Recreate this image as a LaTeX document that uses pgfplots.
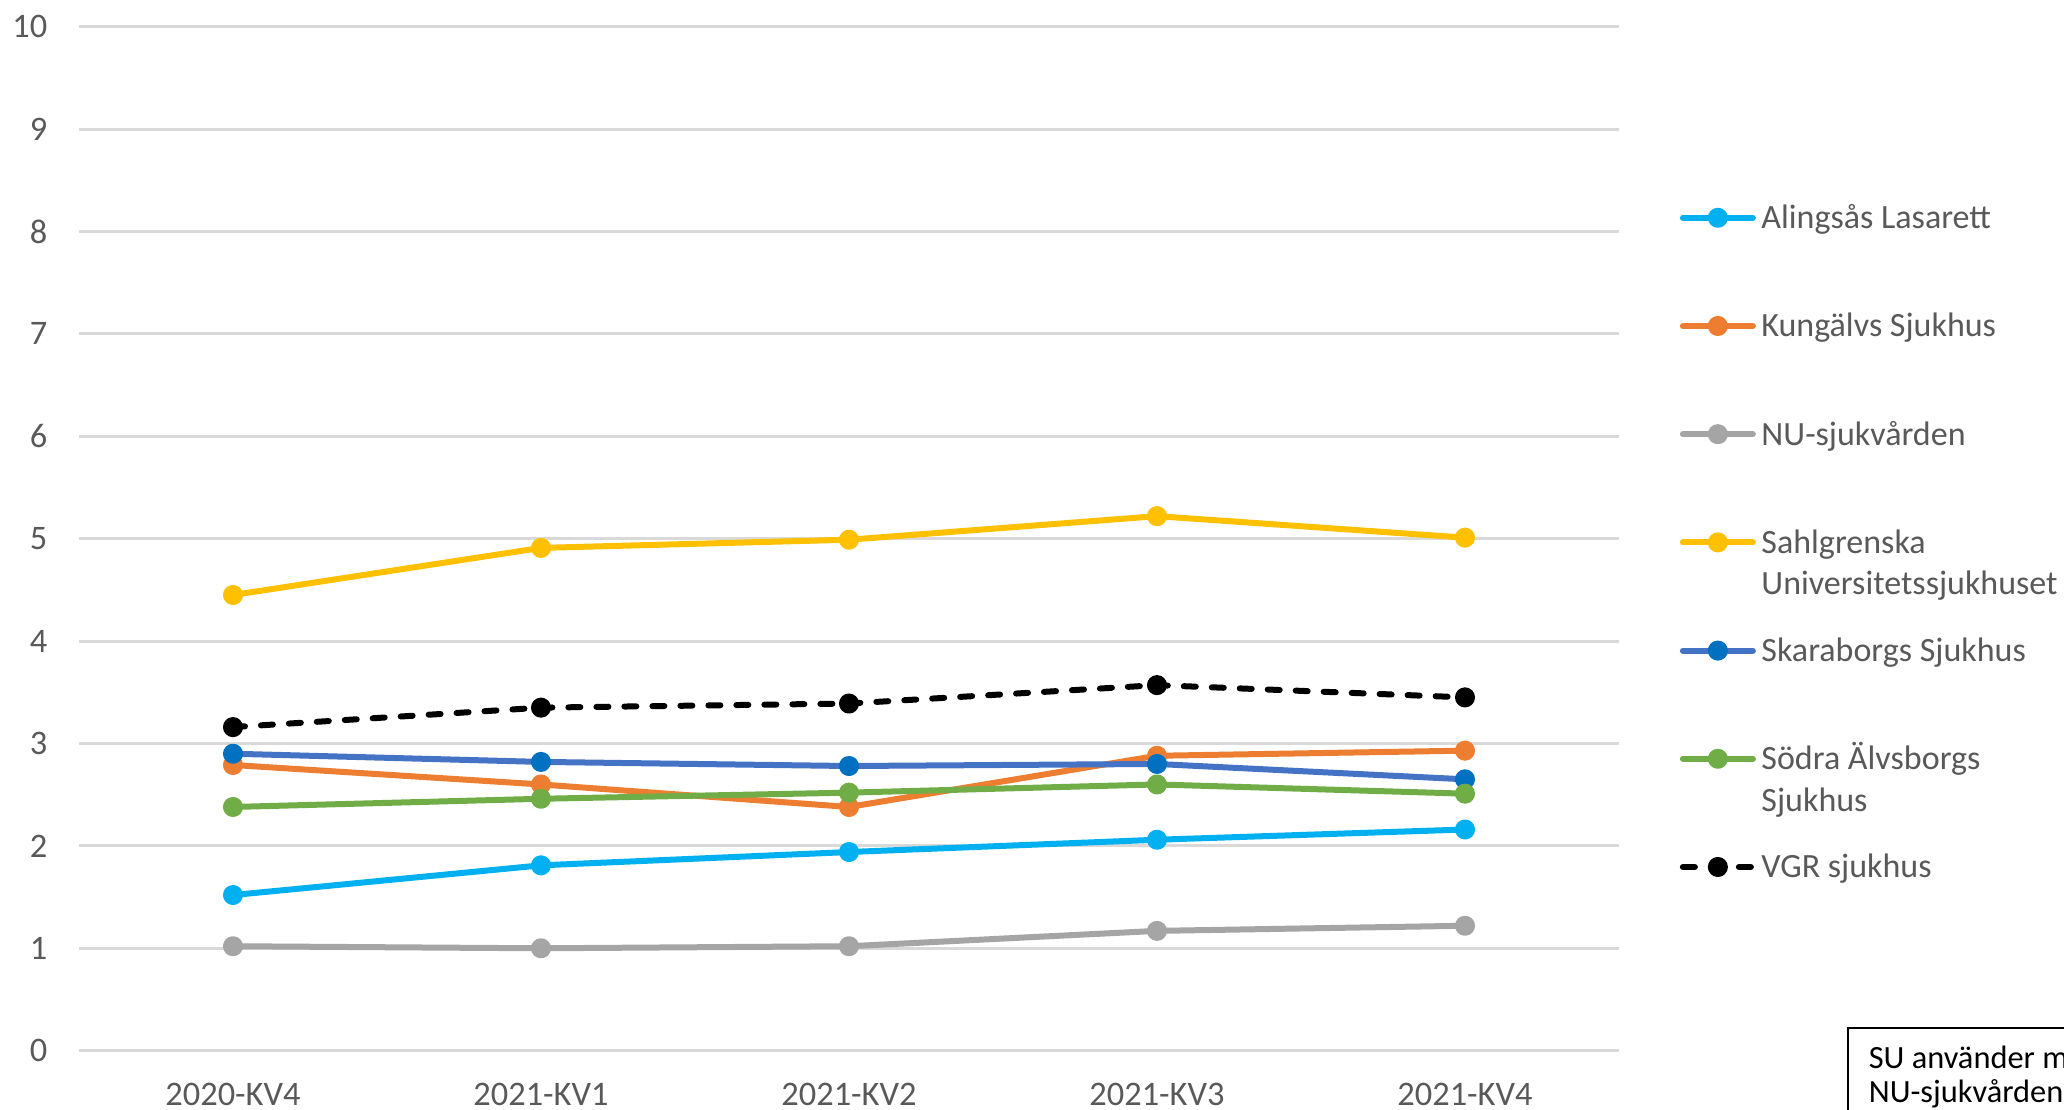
\documentclass[border=0pt]{standalone}
\usepackage{pgfplots}
\pgfplotsset{compat=1.18}
\usepackage{fontspec}
\setmainfont{Carlito}
\definecolor{alingsas}{HTML}{00B0F0}
\definecolor{kungalv}{HTML}{ED7D31}
\definecolor{nu}{HTML}{A5A5A5}
\definecolor{sahl}{HTML}{FFC000}
\definecolor{skara}{HTML}{4472C4}
\definecolor{skaramark}{HTML}{0070C0}
\definecolor{sodra}{HTML}{70AD47}
\definecolor{txt}{HTML}{595959}
\definecolor{gridc}{HTML}{D9D9D9}
\begin{document}
\begin{tikzpicture}
\useasboundingbox (0,0) rectangle (516pt,277.5pt);
\begin{axis}[
  scale only axis,
  width=385pt, height=256pt,
  at={(19.75pt,14.825pt)}, anchor=south west,
  xmin=-0.5, xmax=4.5, ymin=0, ymax=10,
  xtick={0,1,2,3,4},
  xticklabels={2020-KV4,2021-KV1,2021-KV2,2021-KV3,2021-KV4},
  ytick={0,1,...,10},
  axis line style={draw=none},
  tick style={draw=none},
  ymajorgrids,
  grid style={gridc, line width=0.75pt},
  /pgf/number format/assume math mode=true,
  tick label style={font=\fontsize{8.6pt}{10pt}\selectfont, text=txt, inner sep=0pt},
  xticklabel style={anchor=north},
  yticklabel style={anchor=east},
  xticklabel shift=8pt,
  yticklabel shift=7.75pt,
  every axis plot/.append style={line width=1.5pt, line join=round, line cap=round, mark=*, mark size=1.75pt, mark options={solid}},
  legend image code/.code={\draw[mark repeat=2,mark phase=2,#1] plot coordinates {(0pt,0pt) (8.75pt,0pt) (17.5pt,0pt)};},
  legend cell align=left,
  legend style={draw=none, fill=none, inner sep=0pt,
    at={(1.0390,0.8249)}, anchor=north west,
    row sep=21.55pt, column sep=1.4pt,
    font=\fontsize{8.5pt}{10.4pt}\selectfont, text=txt,
    nodes={inner sep=0pt, text height=5.5pt, text depth=0pt}},
]
\addplot[color=alingsas] coordinates {(0,1.52) (1,1.81) (2,1.94) (3,2.06) (4,2.16)};
\addlegendentry{Alingsås Lasarett}
\addplot[color=kungalv] coordinates {(0,2.79) (1,2.60) (2,2.38) (3,2.88) (4,2.93)};
\addlegendentry{Kungälvs Sjukhus}
\addplot[color=nu] coordinates {(0,1.02) (1,1.00) (2,1.02) (3,1.17) (4,1.22)};
\addlegendentry{NU-sjukvården}
\addplot[color=sahl] coordinates {(0,4.45) (1,4.91) (2,4.99) (3,5.22) (4,5.01)};
\addlegendentry{\parbox[t]{120pt}{Sahlgrenska\\Universitetssjukhuset}}
\addplot[color=skara, mark options={solid, draw=skaramark, fill=skaramark}] coordinates {(0,2.90) (1,2.82) (2,2.78) (3,2.80) (4,2.65)};
\addlegendentry{Skaraborgs Sjukhus}
\addplot[color=sodra] coordinates {(0,2.38) (1,2.46) (2,2.52) (3,2.60) (4,2.51)};
\addlegendentry{\parbox[t]{120pt}{Södra Älvsborgs\\Sjukhus}}
\addplot[color=black, dash pattern=on 3pt off 4pt] coordinates {(0,3.16) (1,3.35) (2,3.39) (3,3.57) (4,3.45)};
\addlegendentry{VGR sjukhus}
\end{axis}
\begin{scope}[x=0.25pt, y=-0.25pt, yshift=277.5pt]
\draw[black, line width=0.7pt] (1848,1028) rectangle (2200,1200);
\node[anchor=base west, inner sep=0pt, font=\fontsize{8.1pt}{9pt}\selectfont] at (1868,1069) {SU använder m};
\node[anchor=base west, inner sep=0pt, font=\fontsize{8.1pt}{9pt}\selectfont] at (1868,1103) {NU-sjukvården};
\end{scope}
\end{tikzpicture}
\end{document}
